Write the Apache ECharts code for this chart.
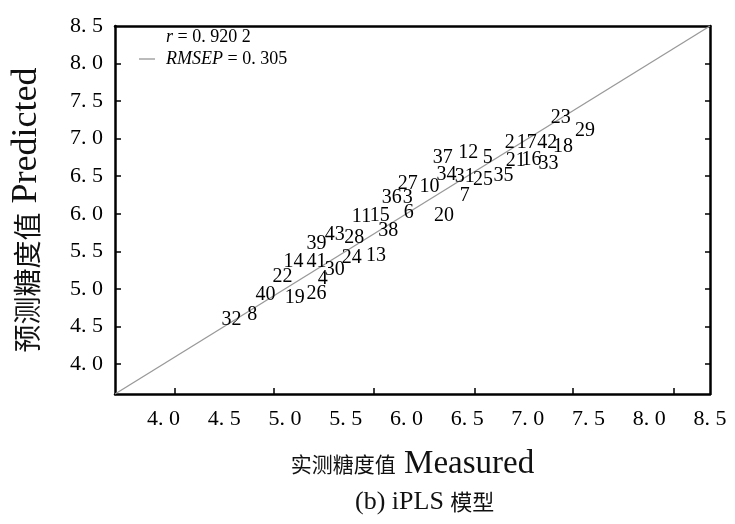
<!DOCTYPE html>
<html>
<head>
<meta charset="utf-8">
<script src="https://cdn.jsdelivr.net/npm/echarts@6/dist/echarts.min.js"></script>
<style>
  html, body { margin: 0; padding: 0; background: #fff; }
  #chart { width: 735px; height: 524px; }
</style>
</head>
<body>
<div id="chart"></div>
<script>
// axis range (same on both axes, the 1:1 line runs corner to corner)
const axisMin = 3.6
const axisMax = 8.5

// sample numbers and their measured / predicted sugar content
const sampleIds = ['32', '8', '40', '19', '26', '22', '14', '41', '4', '30',
  '39', '43', '28', '24', '13', '11', '15', '38', '36', '3',
  '6', '27', '10', '20', '37', '12', '5', '34', '31', '25',
  '35', '7', '2', '17', '42', '18', '21', '16', '33', '23', '29']
const measured = [4.56, 4.73, 4.84, 5.08, 5.26, 4.98, 5.07, 5.26, 5.31, 5.41,
  5.26, 5.41, 5.57, 5.55, 5.75, 5.63, 5.78, 5.85, 5.88, 6.01,
  6.02, 6.01, 6.19, 6.31, 6.30, 6.51, 6.67, 6.33, 6.48, 6.63,
  6.80, 6.48, 6.85, 6.99, 7.16, 7.29, 6.90, 7.03, 7.17, 7.27, 7.47]
const predicted = [4.59, 4.65, 4.92, 4.88, 4.94, 5.16, 5.36, 5.36, 5.14, 5.26,
  5.60, 5.72, 5.68, 5.42, 5.44, 5.96, 5.98, 5.78, 6.21, 6.21,
  6.01, 6.40, 6.36, 5.97, 6.74, 6.81, 6.74, 6.52, 6.49, 6.45,
  6.50, 6.24, 6.94, 6.94, 6.94, 6.89, 6.70, 6.72, 6.66, 7.28, 7.10]

// tick labels
const labelValues = [4.0, 4.5, 5.0, 5.5, 6.0, 6.5, 7.0, 7.5, 8.0, 8.5]
const tickLabels = ['4. 0', '4. 5', '5. 0', '5. 5', '6. 0', '6. 5', '7. 0', '7. 5', '8. 0', '8. 5']
const xTickValues = [4.09, 4.91, 5.73, 6.56, 7.37, 8.2]
const yTickValues = [4.0, 4.5, 5.0, 5.5, 6.0, 6.5, 7.0, 7.5, 8.0]

const rText = 'r = 0. 920 2'
const rmsepText = 'RMSEP = 0. 305'

const serif = 'Liberation Serif, Noto Sans CJK SC'
const cjk = 'Noto Sans CJK SC'

function fmtTick(v) {
  const i = labelValues.findIndex(x => Math.abs(x - v) < 1e-6)
  return i >= 0 ? tickLabels[i] : ''
}

const chart = echarts.init(document.getElementById('chart'))

const boxLine = { lineStyle: { color: '#000', width: 2.5 } }

const option = {
  animation: false,
  backgroundColor: '#fff',
  grid: { left: 115, right: 25, top: 26, bottom: 130 },
  title: {
    text: '{l|(b) iPLS }{c|模型}',
    left: 350,
    top: 484,
    textStyle: {
      rich: {
        l: { fontFamily: serif, fontSize: 26, fontWeight: 'normal', color: '#111' },
        c: { fontFamily: cjk, fontSize: 22, fontWeight: 'normal', color: '#111' }
      }
    }
  },
  legend: {
    orient: 'vertical',
    left: 134,
    top: 23,
    itemGap: 4,
    itemWidth: 16,
    itemHeight: 14,
    data: [
      { name: rText, icon: 'none' },
      { name: rmsepText, icon: 'path://M0,0 L16,0 L16,1 L0,1 Z', itemStyle: { color: '#777' } }
    ],
    formatter: function (name) {
      return name === rText ? '{i|r} = 0. 920 2' : '{i|RMSEP} = 0. 305'
    },
    textStyle: {
      fontFamily: serif,
      fontSize: 18,
      color: '#000',
      padding: [0, 0, 0, 6],
      rich: {
        i: { fontFamily: serif, fontSize: 18, fontStyle: 'italic', color: '#000' }
      }
    }
  },
  xAxis: [
    {
      type: 'value',
      min: axisMin,
      max: axisMax,
      position: 'bottom',
      name: '{c|实测糖度值}{l| Measured}',
      nameLocation: 'middle',
      nameGap: 54,
      nameTextStyle: {
        rich: {
          c: { fontFamily: cjk, fontSize: 21, color: '#111' },
          l: { fontFamily: serif, fontSize: 33, color: '#111' }
        }
      },
      axisLine: boxLine,
      axisTick: { inside: true, length: 6, customValues: xTickValues, lineStyle: { color: '#000', width: 1.5 } },
      axisLabel: {
        customValues: labelValues,
        formatter: fmtTick,
        margin: 14,
        fontFamily: serif,
        fontSize: 22,
        color: '#000'
      },
      splitLine: { show: false }
    },
    {
      type: 'value',
      min: axisMin,
      max: axisMax,
      position: 'top',
      axisLine: boxLine,
      axisTick: { show: false },
      axisLabel: { show: false },
      splitLine: { show: false }
    }
  ],
  yAxis: [
    {
      type: 'value',
      min: axisMin,
      max: axisMax,
      position: 'left',
      name: '{c|预测糖度值}{l| Predicted}',
      nameLocation: 'middle',
      nameGap: 70,
      nameTextStyle: {
        rich: {
          c: { fontFamily: cjk, fontSize: 28, color: '#111' },
          l: { fontFamily: serif, fontSize: 36, color: '#111' }
        }
      },
      axisLine: boxLine,
      axisTick: { inside: true, length: 6, customValues: yTickValues, lineStyle: { color: '#000', width: 1.5 } },
      axisLabel: {
        customValues: labelValues,
        formatter: fmtTick,
        margin: 12,
        fontFamily: serif,
        fontSize: 22,
        color: '#000'
      },
      splitLine: { show: false }
    },
    {
      type: 'value',
      min: axisMin,
      max: axisMax,
      position: 'right',
      axisLine: boxLine,
      axisTick: { inside: true, length: 5, customValues: yTickValues, lineStyle: { color: '#000', width: 1.5 } },
      axisLabel: { show: false },
      splitLine: { show: false }
    }
  ],
  series: [
    {
      name: rText,
      type: 'line',
      data: []
    },
    {
      name: rmsepText,
      type: 'line',
      symbol: 'none',
      data: [[axisMin, axisMin], [axisMax, axisMax]],
      lineStyle: { color: '#999', width: 1.3 },
      itemStyle: { color: '#999' },
      silent: true,
      z: 1
    },
    {
      name: 'samples',
      type: 'scatter',
      symbolSize: 1,
      itemStyle: { color: 'rgba(0,0,0,0)', opacity: 1 },
      data: measured.map((x, i) => [x, predicted[i], sampleIds[i]]),
      label: {
        show: true,
        position: 'inside',
        formatter: p => p.data[2],
        fontFamily: serif,
        fontSize: 20,
        color: '#000',
        opacity: 1
      },
      z: 3
    }
  ]
}

chart.setOption(option)

window.addEventListener('resize', () => chart.resize())
</script>
</body>
</html>
